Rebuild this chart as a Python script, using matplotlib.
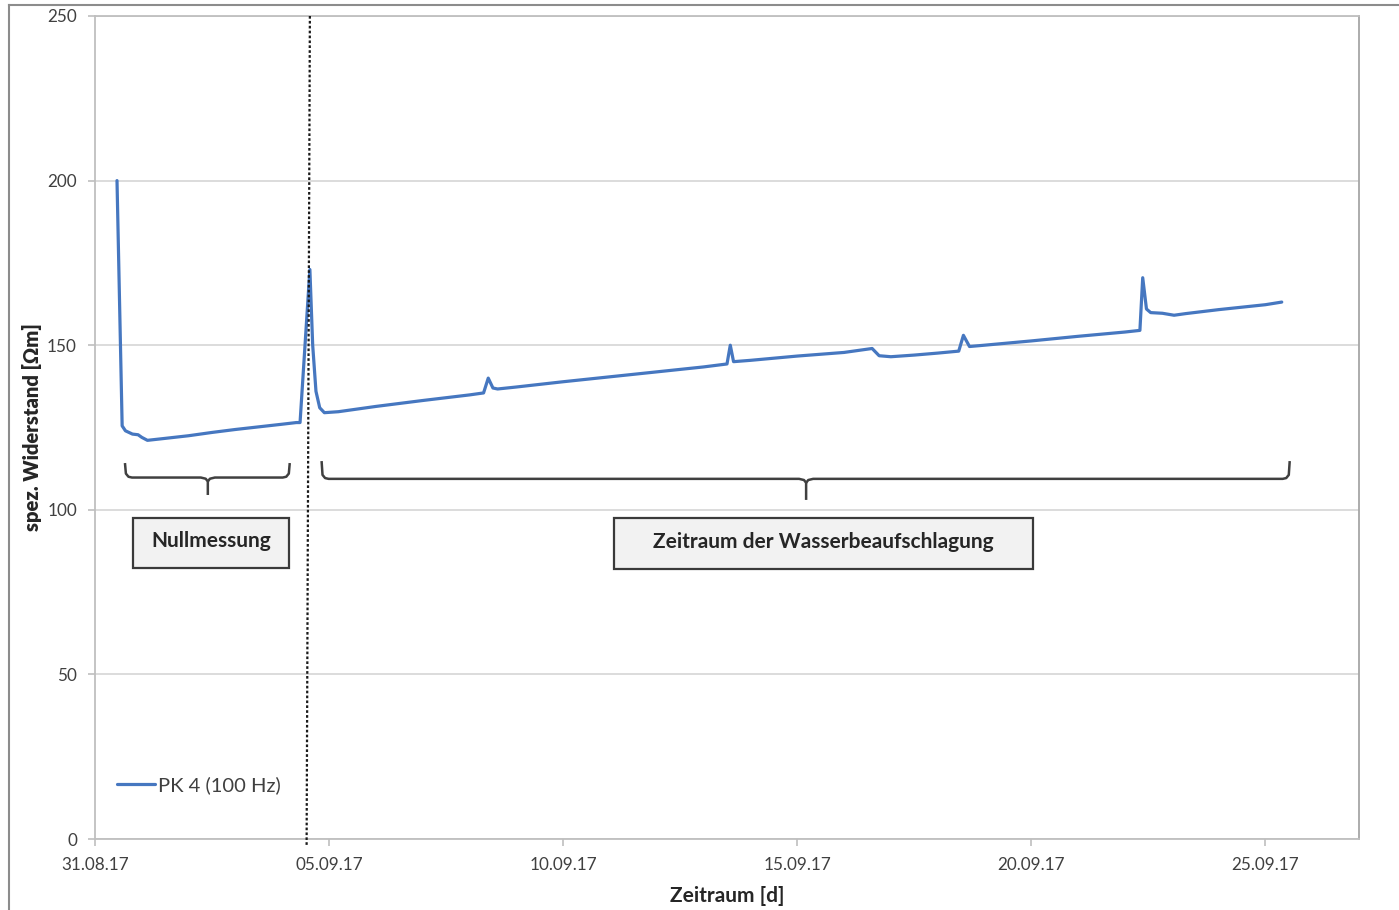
import numpy as np
import matplotlib
matplotlib.use("Agg")
import matplotlib.pyplot as plt
import matplotlib.dates as mdates
from matplotlib.patches import Rectangle
from matplotlib.lines import Line2D
import datetime as dt

plt.rcParams['font.family'] = ['Lato', 'DejaVu Sans']

# ---- data: days since 31.08.2017, spez. Widerstand [Ohm m]
start_date = dt.datetime(2017, 8, 31)
days = [0.47, 0.58, 0.65, 0.80, 0.92, 1.00, 1.12, 1.5, 2.0, 2.5, 3.0, 3.5, 4.0, 4.30,
        4.38, 4.59, 4.65, 4.72, 4.80, 4.90, 5.2, 5.5, 6.0, 7.0, 8.0, 8.30, 8.40, 8.50,
        8.60, 9.0, 10.0, 11.0, 12.0, 13.0, 13.50, 13.57, 13.64, 14.0, 15.0, 16.0,
        16.45, 16.60, 16.75, 17.0, 17.5, 18.0, 18.45, 18.55, 18.68, 19.0, 20.0, 21.0,
        22.0, 22.32, 22.38, 22.46, 22.55, 22.8, 23.05, 23.3, 24.0, 25.0, 25.35]
resistance = [200.0, 125.5, 124.0, 123.0, 122.8, 122.0, 121.1, 121.7, 122.5, 123.5, 124.4,
              125.2, 126.0, 126.5, 126.5, 173.0, 150.0, 136.0, 131.0, 129.5, 129.8, 130.4,
              131.4, 133.2, 134.9, 135.5, 140.0, 137.0, 136.7, 137.3, 138.9, 140.4, 141.9,
              143.4, 144.3, 150.0, 145.0, 145.4, 146.7, 147.8, 148.7, 149.0, 146.8, 146.5,
              147.0, 147.6, 148.2, 153.0, 149.6, 150.0, 151.3, 152.7, 154.0, 154.5, 170.5,
              161.0, 159.9, 159.7, 159.1, 159.6, 160.8, 162.3, 163.1]
series_label = "PK 4 (100 Hz)"
y_ticks = [0, 50, 100, 150, 200, 250]
x_tick_days = [0, 5, 10, 15, 20, 25]

base = mdates.date2num(start_date)
x = [base + d for d in days]

fig = plt.figure(figsize=(13.99, 9.10), dpi=100)
ax = fig.add_axes([95/1399, 1-839/910, (1359-95)/1399, (839-16)/910])

ax.plot(x, resistance, color='#4677c0', lw=2.3, label=series_label,
        solid_joinstyle='round', solid_capstyle='round')

ax.set_xlim(base, base + 27)
ax.set_ylim(0, 250)
ax.set_yticks(y_ticks)
ax.set_xticks([base + d for d in x_tick_days])
ax.xaxis.set_major_formatter(mdates.DateFormatter('%d.%m.%y'))
ax.grid(axis='y', color='#d9d9d9', lw=1.3)
ax.set_axisbelow(True)
for s in ax.spines.values():
    s.set_color('#bfbfbf')
    s.set_linewidth(1.3)
ax.spines['right'].set_color('#a6a6a6')
ax.tick_params(axis='both', colors='#bfbfbf', labelcolor='#404040', labelsize=12.3,
               length=5, width=1.2, direction='out')
ax.tick_params(axis='x', pad=8)
ax.tick_params(axis='y', pad=8)

ax.set_ylabel('spez. Widerstand [Ωm]', fontsize=14.5, fontweight='heavy', color='#262626', labelpad=4)
ax.set_xlabel('Zeitraum [d]', fontsize=15, fontweight='bold', color='#262626', labelpad=9)

leg = ax.legend(loc='center left', bbox_to_anchor=(0.0174, 0.0656), frameon=False,
                fontsize=14.5, handlelength=1.9, handletextpad=0.15, borderpad=0, borderaxespad=0)
for t in leg.get_texts():
    t.set_color('#404040')

# dotted separator line
ax.plot([base + 4.59, base + 4.52], [250, -2], color='#1a1a1a', lw=1.6,
        ls=(0, (1.2, 1.0)), clip_on=False, zorder=5)

# braces
def brace(x0, x1, xm, y_top, y_mid, y_tip, r=0.15, ry=1.2):
    c = '#404040'
    xs = [x0, x0 + 0.02, x0 + r * 0.5, x0 + r, xm - r, xm - r * 0.3, xm, xm]
    ys = [y_top, y_mid + ry, y_mid + ry * 0.2, y_mid, y_mid, y_mid - ry * 0.3, y_mid - ry, y_tip]
    ax.plot([base + v for v in xs], ys, color=c, lw=1.8, clip_on=False, solid_capstyle='butt')
    xs2 = [x1, x1 - 0.02, x1 - r * 0.5, x1 - r, xm + r, xm + r * 0.3, xm]
    ys2 = [y_top, y_mid + ry, y_mid + ry * 0.2, y_mid, y_mid, y_mid - ry * 0.3, y_mid - ry]
    ax.plot([base + v for v in xs2], ys2, color=c, lw=1.8, clip_on=False, solid_capstyle='butt')

brace(0.64, 4.16, 2.41, 114.2, 109.8, 104.5)
brace(4.84, 25.52, 15.19, 114.8, 109.4, 103.0)

# label boxes
def box(x0, x1, y0, y1, text):
    ax.add_patch(Rectangle((base + x0, y0), x1 - x0, y1 - y0, facecolor='#f2f2f2',
                           edgecolor='#3a3a3a', lw=1.6, zorder=4))
    ax.text(base + (x0 + x1) / 2, (y0 + y1) / 2 + 0.5, text, ha='center', va='center',
            fontsize=15, fontweight='bold', color='#262626', zorder=5)

box(0.81, 4.14, 82.3, 97.5, 'Nullmessung')
box(11.09, 20.03, 82.0, 97.5, 'Zeitraum der Wasserbeaufschlagung')

# outer chart frame
fig.add_artist(Line2D([9/1399, 9/1399], [0, 1-5/910], color='#8c8c8c', lw=1.5,
                      transform=fig.transFigure))
fig.add_artist(Line2D([9/1399, 1], [1-5/910, 1-5/910], color='#8c8c8c', lw=1.5,
                      transform=fig.transFigure))

fig.savefig('out.png', dpi=100)
